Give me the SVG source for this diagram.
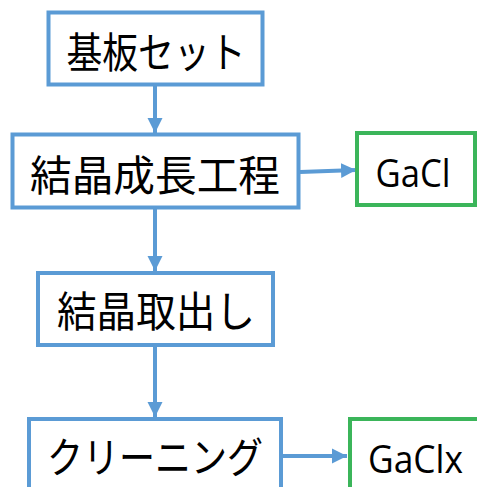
<svg xmlns="http://www.w3.org/2000/svg" width="477" height="487" viewBox="0 0 477 487">
<style>
.b{fill:#fff;stroke:#5B9BD5;stroke-width:4}
.g{fill:#fff;stroke:#3BB55A;stroke-width:4}
.t{font-family:"Noto Sans CJK JP","Noto Sans",sans-serif;font-size:42px;fill:#000;text-anchor:middle;dominant-baseline:central}
.l{font-family:"Open Sans","Noto Sans",sans-serif;font-size:39px;fill:#000;text-anchor:middle;dominant-baseline:central}
.c{stroke:#5B9BD5;stroke-width:4;fill:none}
</style>
<defs>
<marker id="a" markerUnits="userSpaceOnUse" markerWidth="16" markerHeight="16" refX="15" refY="8" orient="auto">
<path d="M0,0.5 L15,8 L0,15.5 Z" fill="#5B9BD5"/>
</marker>
</defs>
<g id="connectors">
<line class="c" x1="155" y1="86" x2="155" y2="133" marker-end="url(#a)"/>
<line class="c" x1="300" y1="172" x2="356" y2="170" marker-end="url(#a)"/>
<line class="c" x1="155" y1="209" x2="155" y2="271" marker-end="url(#a)"/>
<line class="c" x1="155" y1="347" x2="155" y2="417" marker-end="url(#a)"/>
<line class="c" x1="283" y1="456" x2="347" y2="456" marker-end="url(#a)"/>
</g>
<g id="n1"><rect class="b" x="48.5" y="12.5" width="214" height="72"/><text class="t" x="156" y="49" textLength="179" lengthAdjust="spacingAndGlyphs">基板セット</text></g>
<g id="n2"><rect class="b" x="12.5" y="134.5" width="286" height="73"/><text class="t" x="155" y="172" textLength="250" lengthAdjust="spacingAndGlyphs">結晶成長工程</text></g>
<g id="n3"><rect class="g" x="357" y="133" width="118" height="72"/><text class="l" x="413" y="171" textLength="75" lengthAdjust="spacingAndGlyphs">GaCl</text></g>
<g id="n4"><rect class="b" x="38" y="273" width="235" height="72"/><text class="t" x="156" y="308" textLength="198" lengthAdjust="spacingAndGlyphs">結晶取出し</text></g>
<g id="n5"><rect class="b" x="29" y="419" width="252" height="80"/><text class="t" x="155" y="454" textLength="216" lengthAdjust="spacingAndGlyphs">クリーニング</text></g>
<g id="n6"><rect class="g" x="350" y="419" width="140" height="80"/><text class="l" x="415.5" y="457" textLength="95" lengthAdjust="spacingAndGlyphs">GaClx</text></g>
</svg>
